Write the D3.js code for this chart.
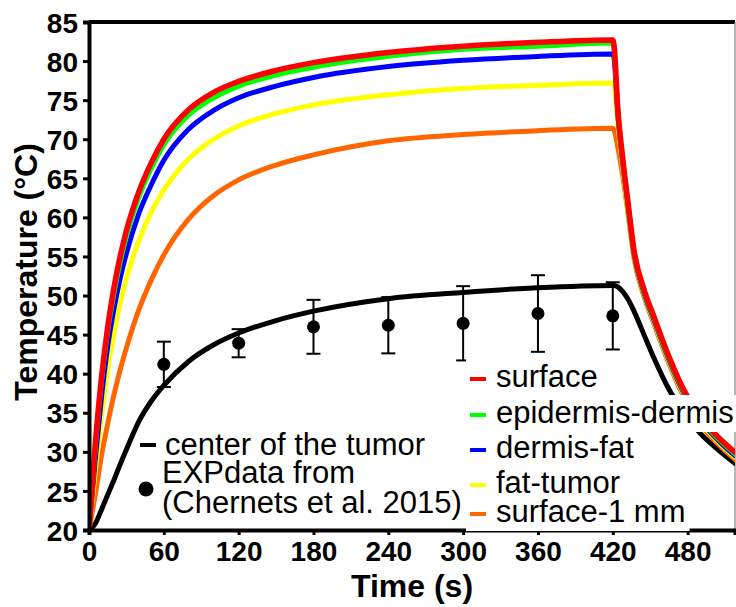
<!DOCTYPE html>
<html><head><meta charset="utf-8">
<script src="https://cdn.jsdelivr.net/npm/d3@7/dist/d3.min.js"></script>
<style>body{margin:0;background:#fff} svg{display:block}</style>
</head><body><svg id="c" width="736" height="607"></svg>
<script>
// ---- data ----
const time =           [0,   5,   10,  15,  20,  25,  30,  40,  50,  60,  80,  100, 120, 150, 180, 240, 300, 360, 420, 421, 424, 428, 432, 437, 445, 453, 465, 477, 490, 505, 519];
const surface =        [20, 31.0,39.5,46.0,51.0,55.0,58.3,63.3,67.0,70.0,73.8,76.0,77.4,78.8,79.8,81.1,81.9,82.4,82.7,82.0,74.0,67.5,62.2,55.8,50.8,47.3,42.2,37.9,34.5,31.8,29.8];
const epidermisDermis =[20, 30.5,39.0,45.5,50.3,54.3,57.6,62.6,66.3,69.3,73.1,75.3,76.8,78.2,79.2,80.6,81.5,81.9,82.3,81.6,73.8,67.3,62.0,55.6,50.6,47.1,42.0,37.7,34.3,31.6,29.6];
const dermisFat =      [20, 29.0,37.0,43.5,48.3,52.2,55.4,60.5,64.2,67.3,71.3,73.7,75.3,76.8,77.9,79.3,80.1,80.6,80.9,80.4,73.3,67.0,61.8,55.4,50.4,46.9,41.8,37.5,34.1,31.4,29.4];
const fatTumor =       [20, 27.5,34.5,40.5,45.2,49.0,52.2,57.0,60.7,63.5,67.5,70.0,71.7,73.3,74.4,75.7,76.5,76.9,77.2,76.9,72.0,66.3,61.3,55.1,50.2,46.7,41.6,37.3,33.9,31.2,29.2];
const surface1mm =     [20, 24.5,29.5,33.6,37.3,40.5,43.3,48.2,52.0,55.2,59.8,62.8,64.8,66.7,68.0,69.8,70.6,71.1,71.4,71.2,69.0,65.3,60.8,54.8,49.9,46.4,41.3,37.0,33.6,30.9,28.9];
const tumorCenter =    [20, 20.8,22.6,24.5,26.4,28.4,30.3,33.9,36.5,38.5,41.6,43.7,45.2,46.8,48.0,49.6,50.4,51.0,51.3,51.3,51.1,50.5,49.6,48.0,45.0,42.0,38.0,35.0,32.4,30.2,28.4];

const expTime = [60, 120, 180, 240, 300, 360, 420];
const expMean = [41.2, 43.9, 46.0, 46.2, 46.45, 47.7, 47.4];
const expErr  = [2.9, 1.8, 3.45, 3.6, 4.75, 4.9, 4.3];

const xTicks = [0, 60, 120, 180, 240, 300, 360, 420, 480];
const yTicks = [20, 25, 30, 35, 40, 45, 50, 55, 60, 65, 70, 75, 80, 85];

const seriesNames  = ["surface", "epidermis-dermis", "dermis-fat", "fat-tumor", "surface-1 mm"];
const seriesColors = ["#ff0000", "#00ff00", "#0000ff", "#ffff00", "#ff6600"];
const seriesValues = [surface, epidermisDermis, dermisFat, fatTumor, surface1mm];

const leftLegend = ["center of the tumor", "EXPdata from", "(Chernets et al. 2015)"];

// ---- layout ----
const FONT = "'Liberation Sans', Arial, Helvetica, sans-serif";
const svg = d3.select("#c");
const X0 = 89, X1 = 735, Y0 = 530, Y1 = 22;
const x = d3.scaleLinear().domain([0, 518]).range([X0, X1]);
const y = d3.scaleLinear().domain([20, 85]).range([Y0, Y1]);

svg.append("defs").append("clipPath").attr("id", "clip")
  .append("rect").attr("x", X0).attr("y", Y1).attr("width", X1 - X0).attr("height", Y0 - Y1);

// frame (top thick, right thin gray)
svg.append("line").attr("x1", X0).attr("x2", X1).attr("y1", Y1).attr("y2", Y1)
  .attr("stroke", "#000").attr("stroke-width", 4);
svg.append("line").attr("x1", X1).attr("x2", X1).attr("y1", Y1).attr("y2", Y0)
  .attr("stroke", "#888").attr("stroke-width", 1.2);

const plot = svg.append("g").attr("clip-path", "url(#clip)");
const line = d3.line().x((d, i) => x(time[i])).y(d => y(d)).curve(d3.curveMonotoneX);

// tumor center (black)
plot.append("path").datum(tumorCenter).attr("d", line)
  .attr("fill", "none").attr("stroke", "#000").attr("stroke-width", 5);

// colored series, drawn from last to first so red is on top
for (let k = seriesValues.length - 1; k >= 0; k--) {
  plot.append("path").datum(seriesValues[k]).attr("d", line)
    .attr("fill", "none").attr("stroke", seriesColors[k])
    .attr("stroke-width", k === 0 ? 5.5 : 5);
}

// experimental data with error bars
const eg = svg.append("g");
expTime.forEach((t, i) => {
  const cx = x(t), top = y(expMean[i] + expErr[i]), bot = y(expMean[i] - expErr[i]);
  eg.append("line").attr("x1", cx).attr("x2", cx).attr("y1", top).attr("y2", bot)
    .attr("stroke", "#000").attr("stroke-width", 2);
  [top, bot].forEach(v => eg.append("line").attr("x1", cx - 7).attr("x2", cx + 7)
    .attr("y1", v).attr("y2", v).attr("stroke", "#000").attr("stroke-width", 2));
  eg.append("circle").attr("cx", cx).attr("cy", y(expMean[i])).attr("r", 6.5).attr("fill", "#000");
});

// axes
const ax = svg.append("g").attr("transform", `translate(0,${Y0})`)
  .call(d3.axisBottom(x).tickValues(xTicks).tickSizeOuter(0).tickSize(5).tickPadding(6));
const ay = svg.append("g").attr("transform", `translate(${X0},0)`)
  .call(d3.axisLeft(y).tickValues(yTicks).tickSizeOuter(0).tickSize(6).tickPadding(5));
[ax, ay].forEach(g => {
  g.select(".domain").attr("stroke", "#000").attr("stroke-width", 4);
  g.selectAll(".tick line").attr("stroke", "#000").attr("stroke-width", 3);
  g.selectAll(".tick text").attr("fill", "#000")
    .style("font-family", FONT).style("font-weight", "bold").style("font-size", "28px");
});
ay.selectAll(".tick text").attr("dy", "0.36em");

// axis titles
svg.append("text").attr("x", (X0 + X1) / 2).attr("y", 597).attr("text-anchor", "middle")
  .style("font-family", FONT).style("font-weight", "bold").style("font-size", "32px").text("Time (s)");
svg.append("text").attr("transform", "translate(37,272) rotate(-90)").attr("text-anchor", "middle")
  .style("font-family", FONT).style("font-weight", "bold").style("font-size", "32px").text("Temperature (°C)");

// right legend
const rl = svg.append("g");
const rowBase = [387, 423, 458, 493, 522];
seriesNames.forEach((n, i) => {
  const g = rl.append("g");
  const bg = g.append("rect").attr("fill", "#fff");
  g.append("rect").attr("x", 470).attr("y", rowBase[i] - 10).attr("width", 16).attr("height", 4)
    .attr("fill", seriesColors[i]);
  const t = g.append("text").attr("x", 496).attr("y", rowBase[i])
    .style("font-family", FONT).style("font-size", "31px").attr("fill", "#000").text(n);
  const w = t.node().getComputedTextLength();
  bg.attr("x", 466).attr("y", rowBase[i] - 28).attr("width", w + 34).attr("height", 37);
});

// left legend
const ll = svg.append("g");
ll.append("rect").attr("x", 140).attr("y", 443).attr("width", 16).attr("height", 4).attr("fill", "#000");
ll.append("circle").attr("cx", 146).attr("cy", 489).attr("r", 7.5).attr("fill", "#000");
[455, 483, 513].forEach((b, i) => {
  ll.append("text").attr("x", i === 0 ? 165 : 162).attr("y", b)
    .style("font-family", FONT).style("font-size", "31px").attr("fill", "#000").text(leftLegend[i]);
});
</script></body></html>
